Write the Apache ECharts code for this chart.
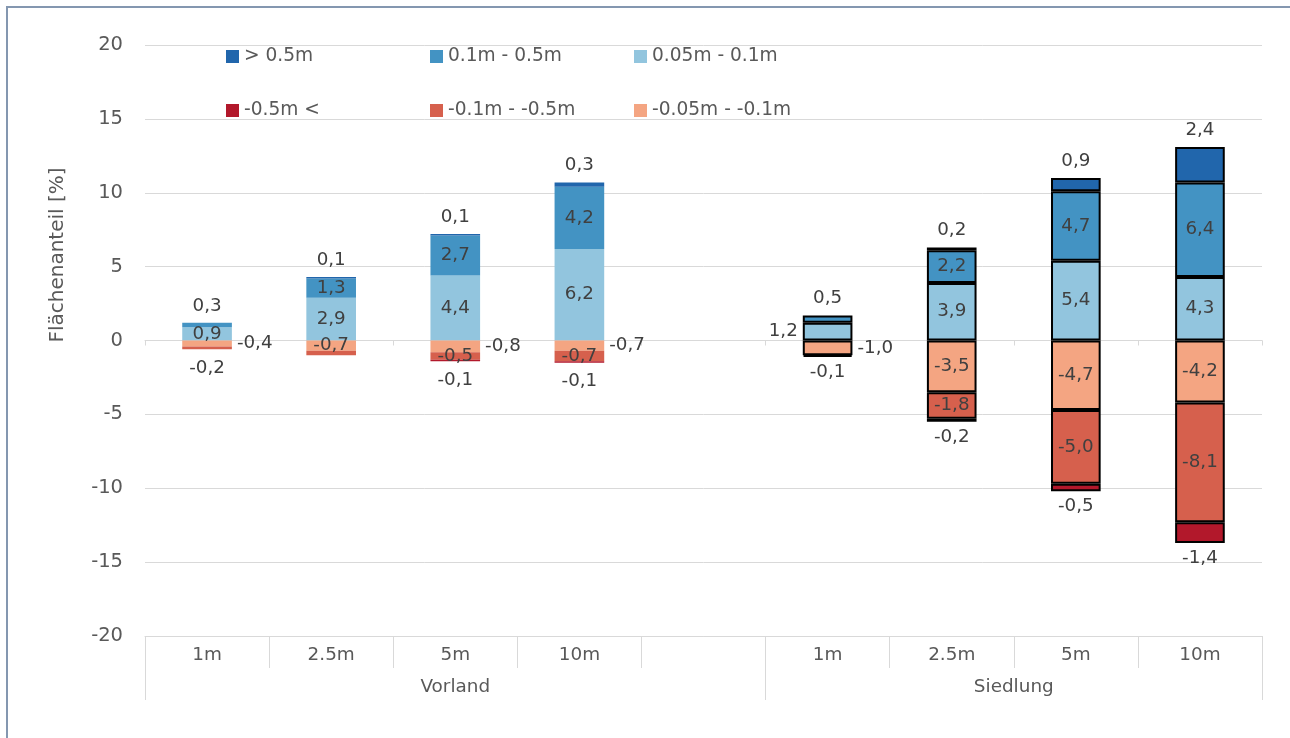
<!DOCTYPE html>
<html>
<head>
<meta charset="utf-8">
<script src="https://cdn.jsdelivr.net/npm/echarts@6/dist/echarts.min.js"></script>
<style>
html,body{margin:0;padding:0;background:#fff;}
#chart{width:1290px;height:738px;}
</style>
</head>
<body>
<div id="chart"></div>
<script>
// ---- data ----
const categories = ['1m', '2.5m', '5m', '10m', '', '1m', '2.5m', '5m', '10m'];
const groups = ['Vorland', 'Siedlung'];
const groupSizes = [5, 4];

const seriesNames = ['> 0.5m', '0.1m - 0.5m', '0.05m - 0.1m', '-0.5m <', '-0.1m - -0.5m', '-0.05m - -0.1m'];
const over05 = [0, 0.1, 0.1, 0.3, null, 0, 0.2, 0.9, 2.4];
const pos01to05 = [0.3, 1.3, 2.7, 4.2, null, 0.5, 2.2, 4.7, 6.4];
const pos005to01 = [0.9, 2.9, 4.4, 6.2, null, 1.2, 3.9, 5.4, 4.3];
const under05 = [0, 0, -0.1, -0.1, null, 0, -0.2, -0.5, -1.4];
const neg01to05 = [-0.2, -0.3, -0.5, -0.7, null, -0.1, -1.8, -5.0, -8.1];
const neg005to01 = [-0.4, -0.7, -0.8, -0.7, null, -1.0, -3.5, -4.7, -4.2];

const yMin = -20, yMax = 20, yStep = 5;

// ---- styling ----
const colors = {
  '> 0.5m': '#2166AC',
  '0.1m - 0.5m': '#4393C3',
  '0.05m - 0.1m': '#92C5DE',
  '-0.5m <': '#B2182B',
  '-0.1m - -0.5m': '#D6604D',
  '-0.05m - -0.1m': '#F4A582'
};
const FONT = "'DejaVu Sans', Verdana, sans-serif";
const LABEL_COLOR = '#404040';
const AXIS_COLOR = '#595959';
const GRID_COLOR = '#D9D9D9';

// default label placement per series, plus per-point overrides (as in the original chart)
const labelDefaults = {
  '> 0.5m': 'top', '0.1m - 0.5m': 'inside', '0.05m - 0.1m': 'inside',
  '-0.5m <': 'bottom', '-0.1m - -0.5m': 'inside', '-0.05m - -0.1m': 'inside'
};
const labelOverrides = {
  '0.1m - 0.5m': {0: 'top', 5: 'top'},
  '0.05m - 0.1m': {5: 'left'},
  '-0.1m - -0.5m': {0: 'bottom', 1: 'hide', 5: 'bottom'},
  '-0.05m - -0.1m': {0: 'right', 2: 'right', 3: 'right', 5: 'right'}
};

function groupOf(i) {
  let acc = 0;
  for (let g = 0; g < groupSizes.length; g++) {
    acc += groupSizes[g];
    if (i < acc) return g;
  }
  return groupSizes.length - 1;
}

function fmt(v) { return v.toFixed(1).replace('.', ','); }

function buildSeries(name, values) {
  const data = values.map((v, i) => {
    if (v === null || v === 0) return '-';
    const g = groupOf(i);
    let pos = (labelOverrides[name] && labelOverrides[name][i]) || labelDefaults[name];
    const show = pos !== 'hide';
    if (!show) pos = 'inside';
    let dist = 5;
    if (pos === 'top') dist = 8;
    if (pos === 'bottom') dist = g === 0 ? 10 : 6;
    if (pos === 'left' || pos === 'right') dist = 5;
    return {
      value: v,
      itemStyle: g === 1 ? {borderColor: '#000', borderWidth: 2} : {borderWidth: 0},
      label: {show: show, position: pos, distance: dist}
    };
  });
  return {
    name: name,
    type: 'bar',
    stack: 'total',
    barWidth: '40%',
    xAxisIndex: 0,
    yAxisIndex: 0,
    itemStyle: {color: colors[name]},
    label: {
      show: true,
      color: LABEL_COLOR,
      fontFamily: FONT,
      fontSize: 18.3,
      formatter: p => fmt(p.value)
    },
    emphasis: {disabled: true},
    data: data
  };
}

// group axis helpers (built from groupSizes)
const total = groupSizes.reduce((a, b) => a + b, 0);
const groupBounds = [0];
groupSizes.forEach(s => groupBounds.push(groupBounds[groupBounds.length - 1] + s));
const groupCenters = groupSizes.map((s, g) => groupBounds[g] + s / 2);

const series = [
  buildSeries('0.05m - 0.1m', pos005to01),
  buildSeries('0.1m - 0.5m', pos01to05),
  buildSeries('> 0.5m', over05),
  buildSeries('-0.05m - -0.1m', neg005to01),
  buildSeries('-0.1m - -0.5m', neg01to05),
  buildSeries('-0.5m <', under05)
];

// legends: two rows of three
const legendCols = [226, 430, 634];
const legendRows = [47, 101];
const legends = seriesNames.map((n, k) => ({
  data: [n],
  left: legendCols[k % 3],
  top: legendRows[Math.floor(k / 3)],
  padding: 0,
  itemWidth: 13,
  itemHeight: 13,
  icon: 'rect',
  selectedMode: false,
  textStyle: {color: AXIS_COLOR, fontFamily: FONT, fontSize: 18.6}
}));

const option = {
  animation: false,
  backgroundColor: '#fff',
  legend: legends,
  grid: {left: 145, right: 28, top: 45, bottom: 102, containLabel: false},
  xAxis: [
    {
      type: 'category',
      data: categories,
      position: 'bottom',
      axisLine: {show: true, onZero: false, lineStyle: {color: GRID_COLOR}},
      axisTick: {show: true, interval: 0, length: 32, lineStyle: {color: GRID_COLOR}},
      axisLabel: {interval: 0, margin: 10, color: AXIS_COLOR, fontFamily: FONT, fontSize: 18.4},
      splitLine: {show: false}
    },
    {
      type: 'category',
      data: categories,
      position: 'bottom',
      axisLine: {show: true, onZero: true, lineStyle: {color: GRID_COLOR}},
      axisTick: {show: true, interval: 0, length: 5, lineStyle: {color: GRID_COLOR}},
      axisLabel: {show: false},
      splitLine: {show: false}
    },
    {
      type: 'value',
      min: 0,
      max: total,
      position: 'bottom',
      axisLine: {show: false, onZero: false},
      axisTick: {show: true, length: 64, customValues: groupBounds, lineStyle: {color: GRID_COLOR}},
      axisLabel: {
        customValues: groupCenters,
        margin: 42,
        color: AXIS_COLOR, fontFamily: FONT, fontSize: 18.4,
        formatter: v => {
          const g = groupCenters.findIndex(c => Math.abs(c - v) < 1e-6);
          return g >= 0 ? groups[g] : '';
        }
      },
      splitLine: {show: false}
    }
  ],
  yAxis: {
    type: 'value',
    min: yMin, max: yMax, interval: yStep,
    axisLine: {show: false},
    axisTick: {show: false},
    axisLabel: {margin: 22, color: AXIS_COLOR, fontFamily: FONT, fontSize: 19.5},
    splitLine: {show: true, lineStyle: {color: GRID_COLOR, width: 1}}
  },
  graphic: [
    {
      type: 'polyline',
      shape: {points: [[7, 760], [7, 7], [1300, 7]]},
      style: {fill: 'none', stroke: '#8497B0', lineWidth: 2},
      silent: true
    },
    {
      type: 'text',
      x: 58, y: 255,
      rotation: Math.PI / 2,
      style: {
        text: 'Flächenanteil [%]',
        fill: AXIS_COLOR,
        font: "20px 'DejaVu Sans', Verdana, sans-serif",
        textAlign: 'center',
        textVerticalAlign: 'middle'
      },
      silent: true
    }
  ],
  series: series
};

const chart = echarts.init(document.getElementById('chart'), null, {renderer: 'canvas'});
chart.setOption(option);
</script>
</body>
</html>
